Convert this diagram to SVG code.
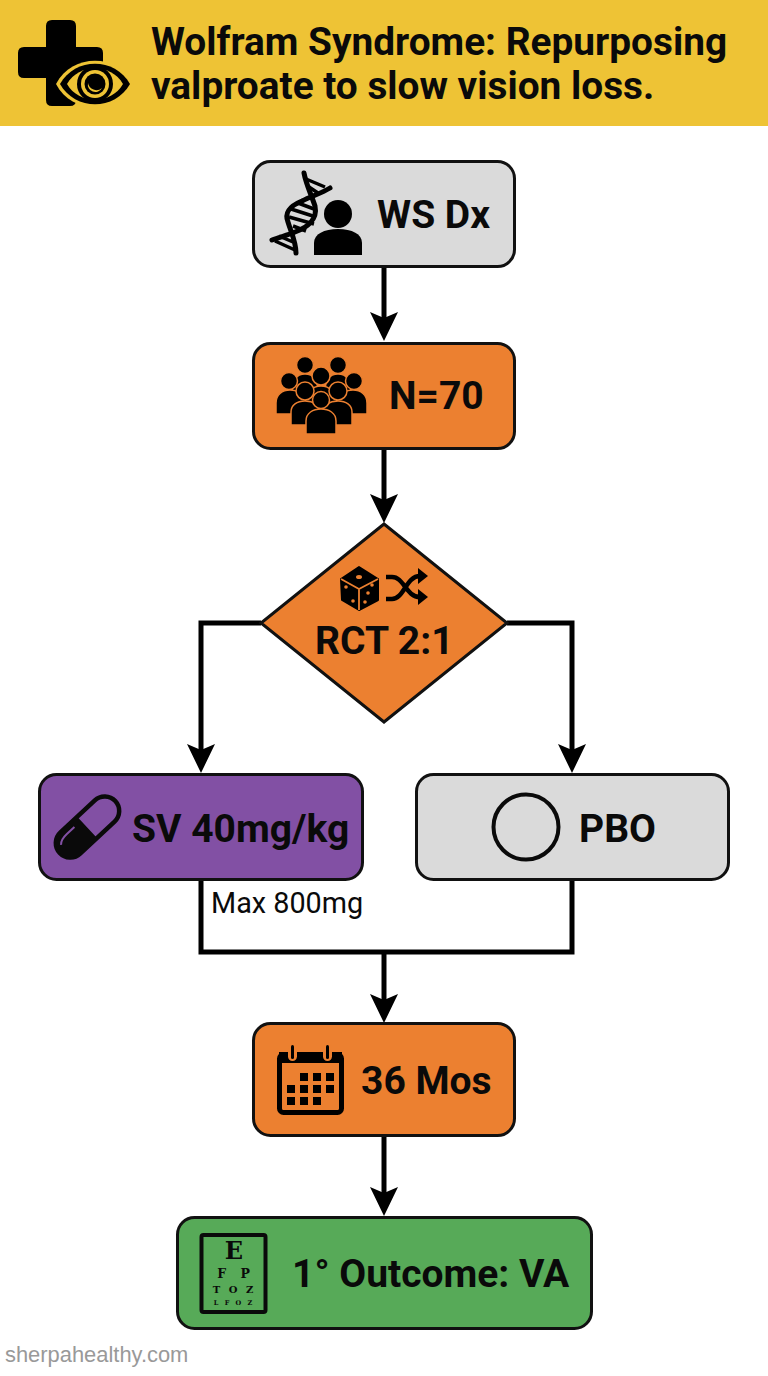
<svg xmlns="http://www.w3.org/2000/svg" width="768" height="1376" viewBox="0 0 768 1376">
<style>
.n{stroke:#111;stroke-width:3}
.o{fill:#ec8030}.g{fill:#dadada}.p{fill:#8250a4}.v{fill:#57aa58}
.t{font-family:Roboto,"Liberation Sans",sans-serif;font-weight:700;font-size:39px;fill:#0a0a0a}
.h{font-family:Roboto,"Liberation Sans",sans-serif;font-weight:700;font-size:38.800px;fill:#0a0a0a}
.c{fill:none;stroke:#000;stroke-width:5}
.e{font-family:"DejaVu Serif","Liberation Serif",serif;font-weight:700;fill:#0a0a0a;text-anchor:middle}
</style>
<defs>
<marker id="a" markerUnits="userSpaceOnUse" markerWidth="30" markerHeight="30" refX="8" refY="15" orient="auto"><path d="M0 1L29 15L0 29L6 15Z" fill="#000"/></marker>
</defs>
<rect width="768" height="1376" fill="#fff"/>
<g id="header">
<rect width="768" height="126" fill="#eec335"/>
<path d="M52 20H70Q76 20 76 26V47H97Q103 47 103 53V72Q103 78 97 78H76V100Q76 106 70 106H52Q46 106 46 100V78H24Q18 78 18 72V53Q18 47 24 47H46V26Q46 20 52 20Z" fill="#000"/>
<path d="M56 84C72 53 118 53 134 84C118 115 72 115 56 84Z" fill="#eec335"/>
<path d="M60 84C75 57 115 57 130 84C115 111 75 111 60 84Z" fill="#000"/>
<path d="M67 84C79 63 111 63 123 84C111 105 79 105 67 84Z" fill="#eec335"/>
<circle cx="95" cy="84" r="18" fill="#000"/><circle cx="95" cy="84" r="14" fill="#eec335"/><circle cx="95" cy="84" r="10.500" fill="#000"/>
<path d="M88 83A7.500 7.500 0 0 0 102 88A8.500 8.500 0 0 1 88 83Z" fill="#eec335"/>
<text class="h" x="151" y="55">Wolfram Syndrome: Repurposing</text>
<text class="h" x="151" y="99">valproate to slow vision loss.</text>
</g>
<g id="connectors">
<path class="c" d="M384 267V320" marker-end="url(#a)"/>
<path class="c" d="M384 449V502" marker-end="url(#a)"/>
<path class="c" d="M261 623H201V752" marker-end="url(#a)"/>
<path class="c" d="M507 623H572V752" marker-end="url(#a)"/>
<path class="c" d="M201 880V952H572V880"/>
<path class="c" d="M384 952V1002" marker-end="url(#a)"/>
<path class="c" d="M384 1136V1195" marker-end="url(#a)"/>
</g>
<g id="ws-dx">
<rect class="n g" x="253.500" y="161.500" width="261" height="105" rx="17"/>
<g fill="none" stroke="#000" stroke-linecap="round">
<path stroke-width="5" d="M304 173C306 184 311 194 315 206C318 220 306 228 295 232C288 235 280 237 272 240"/>
<path stroke-width="5" d="M330 188C322 193 312 196 302 201C290 206 284 212 288 222C291 232 296 242 296 253"/>
<path stroke-width="3.500" stroke-linecap="butt" d="M306 179L325 187M309 187L318 193M298 203L314 209M291 209L316 217M289 217L314 224M293 226L306 231M279 236L293 242M275 241L295 250"/>
</g>
<circle cx="338" cy="214" r="14"/><path d="M314 255V243C314 234 324 229 338 229S362 234 362 243V255Z"/>
<text class="t" x="377" y="228">WS Dx</text>
</g>
<g id="n-70">
<rect class="n o" x="253.500" y="343.500" width="261" height="105" rx="17"/>
<g stroke="#ec8030" stroke-width="1.500" fill="#000">
<circle cx="305" cy="365" r="8.500"/><circle cx="338" cy="365" r="8.500"/>
<path d="M292 392C292 378 298 374 305 374S318 378 318 392ZM325 392C325 378 331 374 338 374S351 378 351 392Z"/>
<circle cx="289" cy="381" r="8.500"/><circle cx="354" cy="381" r="8.500"/>
<path d="M276 414V403C276 395 282 390 290 390S306 395 306 403V414ZM337 414V403C337 395 345 390 353 390S367 395 367 403V414Z"/>
<circle cx="321" cy="376" r="9"/><path d="M305 405C305 392 313 386 321 386S337 392 337 405Z"/>
<circle cx="305" cy="391" r="9"/><circle cx="338" cy="391" r="9"/>
<path d="M291 425V412C291 405 297 401 305 401S321 405 321 412V425ZM322 425V412C322 405 330 401 338 401S352 405 352 412V425Z"/>
<circle cx="321" cy="400" r="8.500"/><path d="M306 434V421C306 413 313 409 321 409S336 413 336 421V434Z"/>
</g>
<text class="t" x="389" y="409">N=70</text>
</g>
<g id="rct">
<path class="n o" d="M384 524L507 623L384 722L261 623Z"/>
<path d="M359 567L378 579V600L359 610L342 600L341 579Z" fill="#000" stroke="#000" stroke-width="2" stroke-linejoin="round"/>
<path d="M341 579L359 589L378 579M359 589V610" fill="none" stroke="#ec8030" stroke-width="1.800"/>
<g fill="#ec8030"><ellipse cx="359" cy="577" rx="3" ry="2"/><circle cx="346" cy="587" r="1.800"/><circle cx="353" cy="601" r="1.800"/><circle cx="372" cy="585" r="1.800"/><circle cx="368" cy="593" r="1.800"/><circle cx="365" cy="602" r="1.800"/></g>
<path d="M386 577H392C404 577 406 597 420 597M386 599H392C404 599 406 576 420 576" fill="none" stroke="#000" stroke-width="4.500"/>
<path d="M418 568L428 576L418 584ZM418 589L428 597L418 605Z" fill="#000"/>
<text class="t" x="315" y="654">RCT 2:1</text>
</g>
<g id="sv">
<rect class="n p" x="39.500" y="774.500" width="323" height="105" rx="17"/>
<g transform="rotate(-43 87.500 827)">
<rect x="49.500" y="812.500" width="76" height="29" rx="14.500" fill="none" stroke="#0a0a0a" stroke-width="4.500"/>
<path d="M87 812.500H64A14.500 14.500 0 0 0 64 841.500H87Z" fill="#0a0a0a"/>
<path d="M56 822Q59 818 68 818H78" fill="none" stroke="#8250a4" stroke-width="2"/>
</g>
<text class="t" x="132" y="842">SV 40mg/kg</text>
</g>
<text id="sv-note" x="211" y="913" font-family="Roboto,'Liberation Sans',sans-serif" font-size="28.800" fill="#0a0a0a">Max 800mg</text>
<g id="pbo">
<rect class="n g" x="416.500" y="774.500" width="312" height="105" rx="17"/>
<circle cx="526" cy="827" r="32.500" fill="none" stroke="#0a0a0a" stroke-width="4"/>
<text class="t" x="579" y="842">PBO</text>
</g>
<g id="months">
<rect class="n o" x="253.500" y="1023.500" width="261" height="112" rx="17"/>
<rect x="279.500" y="1054.500" width="62" height="58" rx="4" fill="none" stroke="#000" stroke-width="5"/>
<path d="M279 1052H342V1063H279Z" fill="#000"/>
<g fill="#ec8030"><rect x="288" y="1044" width="9" height="17" rx="4.500"/><rect x="323" y="1044" width="9" height="17" rx="4.500"/></g>
<g fill="#000"><rect x="291" y="1045" width="3" height="14" rx="1.500"/><rect x="326" y="1045" width="3" height="14" rx="1.500"/>
<path d="M300 1073h8v8h-8zM313 1073h8v8h-8zM326 1073h8v8h-8zM287 1085h8v8h-8zM300 1085h8v8h-8zM313 1085h8v8h-8zM326 1085h8v8h-8zM287 1097h8v8h-8zM300 1097h8v8h-8zM313 1097h8v8h-8z"/></g>
<text class="t" x="361" y="1094">36 Mos</text>
</g>
<g id="outcome">
<rect class="n v" x="177.500" y="1217.500" width="414" height="111" rx="17"/>
<rect x="201.500" y="1235" width="64" height="77" rx="2" fill="none" stroke="#0a0a0a" stroke-width="4"/>
<text class="e" x="234" y="1259" font-size="24">E</text>
<text class="e" x="233.500" y="1278" font-size="12.500" word-spacing="10">F P</text>
<text class="e" x="233" y="1293" font-size="10" word-spacing="5">T O Z</text>
<text class="e" x="233" y="1305" font-size="6.500" word-spacing="4">L F O Z</text>
<text class="t" x="292" y="1287">1° Outcome: VA</text>
</g>
<text id="watermark" x="5" y="1362" font-family="'Liberation Sans',Arial,sans-serif" font-size="21.900" fill="#999">sherpahealthy.com</text>
</svg>
